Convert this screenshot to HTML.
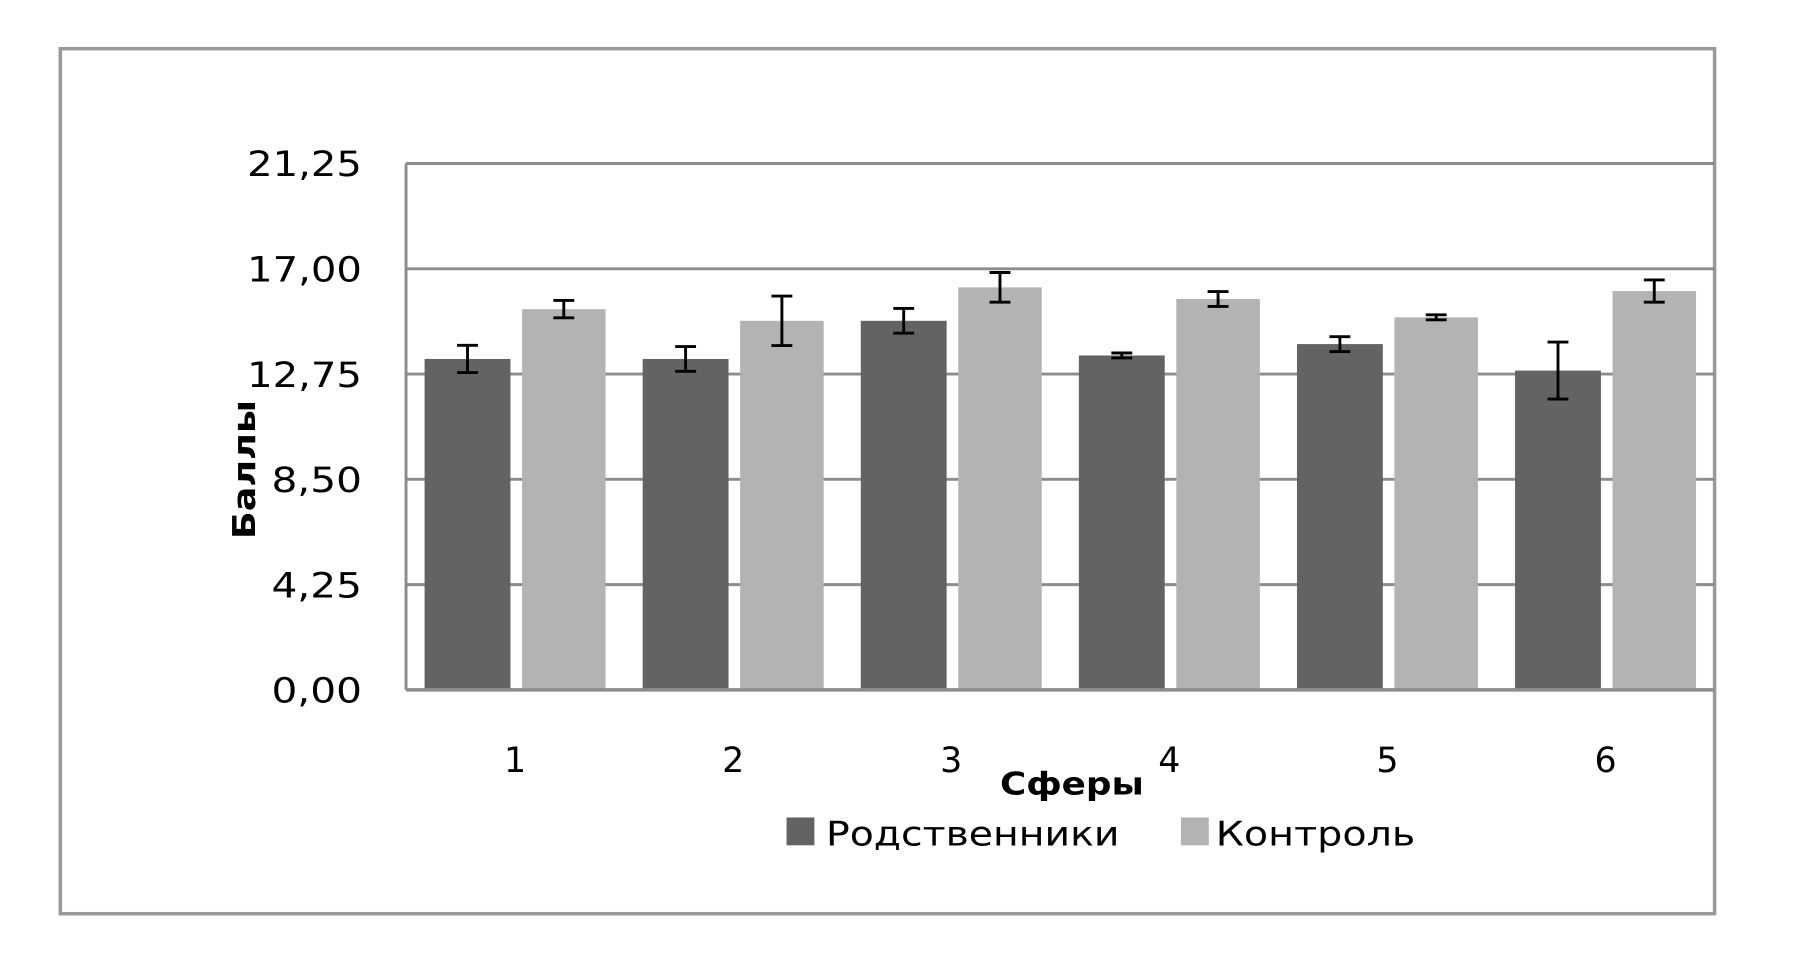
<!DOCTYPE html>
<html><head><meta charset="utf-8"><style>
html,body{margin:0;padding:0;background:#fff;}
svg{display:block;}
text{font-family:"DejaVu Sans","Liberation Sans",sans-serif;fill:#000;}
</style></head><body>
<svg id="chart" width="1819" height="974" viewBox="0 0 1568 840" preserveAspectRatio="none" xmlns="http://www.w3.org/2000/svg">
<rect x="52" y="42" width="1426" height="746" fill="#fff" stroke="#999" stroke-width="3"/>
<g id="grid"></g>
<g id="bars"></g>
<g id="labels"></g>
<text transform="translate(220,405) rotate(-90)" text-anchor="middle" font-size="27" font-weight="bold" textLength="120" lengthAdjust="spacingAndGlyphs">Баллы</text>
<text x="924" y="685" text-anchor="middle" font-size="27" font-weight="bold" textLength="124" lengthAdjust="spacingAndGlyphs">Сферы</text>
<g>
<rect x="678" y="705" width="24" height="24" fill="#636363"/>
<text x="712" y="729" font-size="29" textLength="253" lengthAdjust="spacingAndGlyphs">Родственники</text>
<rect x="1018" y="705" width="24" height="24" fill="#b3b3b3"/>
<text x="1048" y="729" font-size="29" textLength="172" lengthAdjust="spacingAndGlyphs">Контроль</text>
</g>
</svg>
<script>
const categories = ["1","2","3","4","5","6"];
const relatives = [13.36, 13.36, 14.9, 13.5, 13.96, 12.89];
const relativesErr = [0.55, 0.5, 0.5, 0.1, 0.3, 1.15];
const control = [15.37, 14.9, 16.25, 15.78, 15.04, 16.1];
const controlErr = [0.35, 1.0, 0.6, 0.3, 0.1, 0.45];
const yTicks = [0, 4.25, 8.5, 12.75, 17, 21.25];
const yTickLabels = ["0,00","4,25","8,50","12,75","17,00","21,25"];

const NS = "http://www.w3.org/2000/svg";
const X0 = 350, X1 = 1478, Y0 = 595, Y1 = 141, YMAX = 21.25;
const y = v => Y0 - (v / YMAX) * (Y0 - Y1);
const gw = (X1 - X0) / categories.length;
const gx = i => X0 + gw * i;
function mk(tag, attrs, parent) {
  const e = document.createElementNS(NS, tag);
  for (const k in attrs) e.setAttribute(k, attrs[k]);
  parent.appendChild(e);
  return e;
}
const grid = document.getElementById('grid');
const bars = document.getElementById('bars');
const labels = document.getElementById('labels');

yTicks.forEach((t, i) => {
  if (t > 0) {
    const l = mk('line', {x1: X0, x2: X1, y1: y(t), y2: y(t), stroke: '#8c8c8c', 'stroke-width': 2.5}, grid);
    
    
  }
  const lbl = yTickLabels[i];
  const tx = mk('text', {x: 312, y: y(t) + 11, 'text-anchor': 'end', 'font-size': 30, textLength: lbl.length === 5 ? 99 : 78, lengthAdjust: 'spacingAndGlyphs'}, labels);
  tx.textContent = lbl;
  
  
});
const ax = mk('line', {x1: X0, x2: X0, y1: Y1, y2: Y0, stroke: '#8c8c8c', 'stroke-width': 2.5}, grid);



function errBar(cx, v, e) {
  const g = mk('g', {stroke: '#000', 'stroke-width': 2.5}, bars);
  
  
  mk('line', {x1: cx, x2: cx, y1: y(v + e), y2: y(v - e)}, g);
  mk('line', {x1: cx - 9, x2: cx + 9, y1: y(v + e), y2: y(v + e)}, g);
  mk('line', {x1: cx - 9, x2: cx + 9, y1: y(v - e), y2: y(v - e)}, g);
}
categories.forEach((c, i) => {
  const b1x = gx(i) + 16, b2x = gx(i) + 100, bw = 74;
  const r1 = mk('rect', {x: b1x, y: y(relatives[i]), width: bw, height: Y0 - y(relatives[i]), fill: '#636363'}, bars);
  
  
  const r2 = mk('rect', {x: b2x, y: y(control[i]), width: 72, height: Y0 - y(control[i]), fill: '#b3b3b3'}, bars);
  
  
  errBar(b1x + bw / 2, relatives[i], relativesErr[i]);
  errBar(b2x + 36, control[i], controlErr[i]);
  const t = mk('text', {x: gx(i) + 94, y: 666, 'text-anchor': 'middle', 'font-size': 30}, labels);
  t.textContent = c;
  
  
});
const base = mk('line', {x1: X0, x2: X1, y1: Y0, y2: Y0, stroke: '#8c8c8c', 'stroke-width': 3}, bars);


</script>
</body></html>
